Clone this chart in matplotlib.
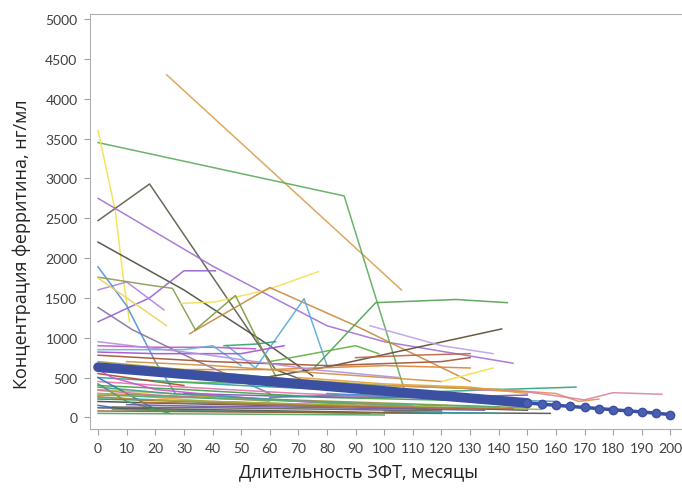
import matplotlib
matplotlib.use("Agg")
import matplotlib.pyplot as plt

# individual patients: months of therapy and ferritin, ng/ml
months = [
    [24, 106], [0, 86, 107], [0, 6, 9, 11], [0, 18, 45, 62, 75],
    [0, 40, 80, 100, 145], [0, 30, 60, 75], [0, 18, 30, 41], [0, 10, 23],
    [0, 10, 20, 27], [0, 18, 26, 34], [0, 24], [29, 41, 59, 77],
    [32, 60, 90, 130], [34, 48, 62], [45, 55, 72, 80], [75, 97, 125, 143],
    [50, 81, 141], [95, 120, 138], [0, 12, 35, 60], [0, 20, 40, 55],
    [0, 30, 40, 50], [0, 20, 50, 65], [44, 55, 62], [0, 40, 80, 120, 130],
    [60, 90, 98], [0, 60, 100, 130], [0, 50, 110], [0, 30, 80, 140],
    [0, 40, 100, 150], [0, 20, 60, 120, 150], [0, 10, 40, 90], [0, 50, 100, 158],
    [0, 30, 70, 110], [0, 25, 60], [0, 15, 40, 70], [0, 10, 30],
    [10, 40, 80, 120], [20, 60, 100, 140], [30, 70, 110, 150], [60, 100, 140, 167],
    [100, 140, 160, 168, 175], [130, 150, 170, 180, 197], [120, 138], [90, 110, 130],
    [0, 20, 50, 80], [0, 35, 75, 105], [5, 30, 60, 95], [0, 10, 20],
    [0, 40, 80, 120], [40, 80, 120], [70, 100, 130, 150], [80, 110, 140, 160],
    [0, 20, 40], [0, 10, 25], [100, 120, 140], [0, 30, 60, 100],
    [0, 5, 20, 50, 90], [50, 100, 110], [0, 50, 100], [0, 35, 70, 115],
    [0, 15, 45, 85, 125], [10, 35, 65, 100, 135], [0, 25, 55, 90], [20, 50, 90, 130, 155],
    [0, 20, 45, 75, 110], [5, 40, 85, 120], [0, 30, 65, 95, 140], [15, 45, 80, 115, 145],
]
ferritin = [
    [4300, 1600], [3450, 2780, 350], [3600, 2600, 1700, 1200], [2470, 2930, 1500, 600, 420],
    [2750, 1900, 1150, 950, 680], [2200, 1600, 900, 520], [1200, 1500, 1840, 1840], [1600, 1700, 1350],
    [1890, 1400, 700, 300], [1760, 1660, 1620, 1100], [1750, 1150], [1430, 1450, 1600, 1830],
    [1050, 1630, 1150, 450], [1100, 1530, 520], [900, 620, 1490, 650], [600, 1440, 1480, 1440],
    [450, 640, 1110], [1150, 900, 800], [1380, 1100, 700, 300], [900, 880, 880, 860],
    [850, 850, 900, 650], [820, 800, 800, 900], [900, 920, 950], [780, 700, 650, 700, 750],
    [700, 900, 800], [600, 600, 650, 620], [500, 400, 300], [400, 350, 250, 200],
    [300, 250, 180, 120], [200, 180, 150, 120, 90], [150, 100, 80, 60], [120, 90, 60, 50],
    [450, 380, 300, 250], [350, 300, 200], [250, 230, 180, 150], [550, 500, 400],
    [700, 650, 550, 450], [450, 420, 400, 350], [300, 260, 250, 280], [250, 300, 350, 380],
    [400, 350, 300, 200, 230], [350, 320, 220, 310, 290], [450, 620], [750, 780, 800],
    [650, 550, 450, 400], [950, 800, 600, 500], [100, 80, 70, 50], [500, 300, 100],
    [80, 70, 60, 50], [200, 150, 100], [500, 420, 380, 300], [300, 250, 220, 200],
    [300, 250, 200], [420, 200, 50], [80, 60, 50], [700, 600, 500, 400],
    [600, 500, 350, 250, 150], [180, 150, 120], [50, 40, 30], [230, 200, 160, 110],
    [260, 220, 190, 150, 120], [160, 140, 130, 110, 90], [380, 300, 240, 170], [220, 190, 150, 120, 100],
    [340, 280, 230, 200, 140], [130, 120, 100, 80], [280, 250, 210, 170, 130], [190, 170, 140, 120, 110],
]
palette = ["#D9A050", "#5BAA5B", "#F2E24A", "#5A5A4A", "#A070D0", "#4A4A40",
           "#9060D0", "#B080E0", "#4A90D9", "#8A9A50", "#F0D060", "#F5E050",
           "#C8883A", "#7A9A40", "#5AA8E0", "#50A050", "#5A4A30", "#C0A0E8",
           "#8070A0", "#C050C0", "#60B0E0", "#A050D0", "#30A070", "#A05030",
           "#60B040", "#E08030", "#30A0A0", "#40A040", "#909030", "#404040",
           "#4060C0", "#505050", "#E070B0", "#B0C030", "#40C0D0", "#B04020",
           "#D09040", "#50B050", "#8050C0", "#30A080", "#E09050", "#E080A0",
           "#F0E040", "#C06040", "#803020", "#B090E0", "#60A060", "#3070C0",
           "#906030", "#C040A0", "#E0A030", "#5090D0", "#F0A040", "#40A050",
           "#30A0A0", "#A0A040", "#D050D0", "#E8D840", "#50A060", "#2E8B57",
           "#C08030", "#7050B0", "#3A9A9A", "#A0B040", "#D07090", "#606060",
           "#50B070", "#B07040"]

# mean trend
mean_months = list(range(0, 201, 5))
mean_values = [630, 616, 601, 587, 572, 557, 542, 527, 512, 497, 482, 466, 451, 436,
               421, 406, 391, 376, 361, 346, 331, 316, 301, 286, 271, 256, 241, 226,
               211, 196, 181, 166, 152, 138, 124, 110, 96, 82, 68, 52, 35]

fig = plt.figure(figsize=(6.82, 4.89), dpi=100)
ax = fig.add_axes([0.132, 0.12, 0.867, 0.849])

for m, f, c in zip(months, ferritin, palette):
    ax.plot(m, f, color=c, lw=1.1, alpha=0.9)

k = mean_months.index(150)
ax.plot(mean_months[:k + 1], mean_values[:k + 1], color="#3B4FA3", lw=7, solid_capstyle="round")
ax.plot(mean_months[k:], mean_values[k:], color="#3B4FA3", lw=2.5, marker="o",
        markersize=6, markerfacecolor="#4A5FB0", markeredgecolor="#3B4FA3")

ax.set_xlim(-2.8, 203.8)
ax.set_ylim(-150, 5062)
ax.set_xticks(range(0, 201, 10))
ax.set_yticks(range(0, 5001, 500))
ax.tick_params(labelsize=10, colors="#404040", length=4, width=0.8, pad=5)
ax.tick_params(axis="both", color="#A0A0A0")
for lab in ax.get_xticklabels() + ax.get_yticklabels():
    lab.set_family(["Lato", "DejaVu Sans"])
for s in ["left", "bottom", "top"]:
    ax.spines[s].set_color("#B0B0B0")
ax.spines["right"].set_visible(False)

fig.text(0.525, 0.034, "Длительность ЗФТ, месяцы", ha="center", va="center",
         fontsize=13, family="Open Sans", color="#222222")
fig.text(0.032, 0.50, "Концентрация ферритина, нг/мл", ha="center", va="center",
         rotation=90, fontsize=13, family="Open Sans", color="#222222")

fig.savefig("out.png", dpi=100)
